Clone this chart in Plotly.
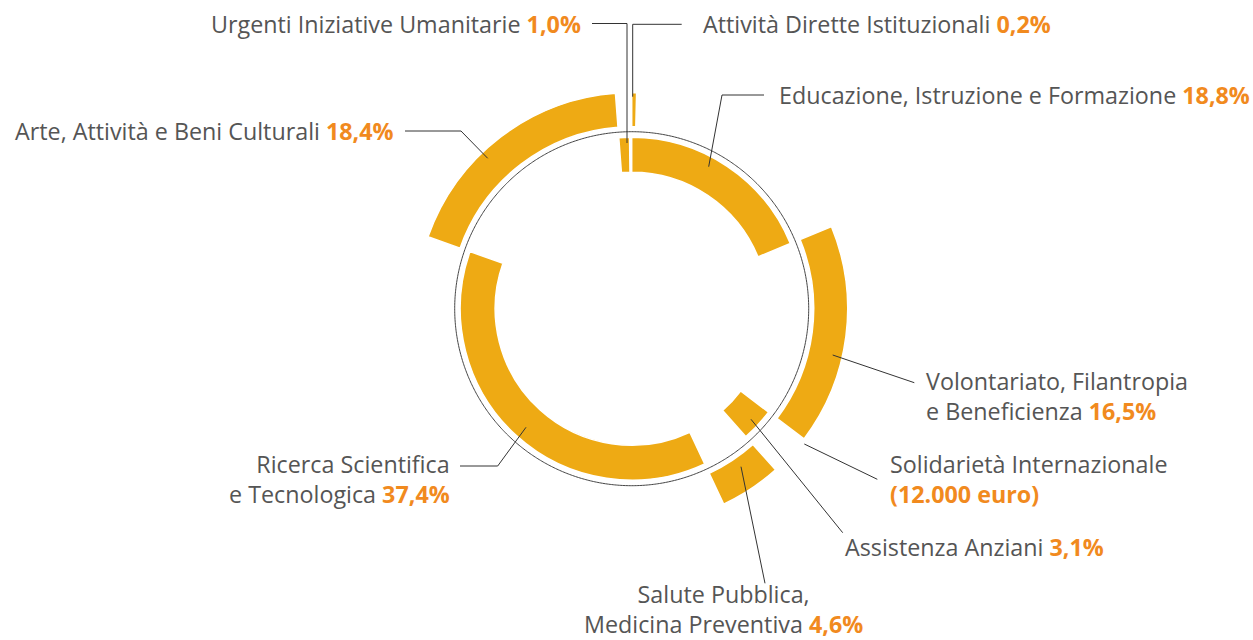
import plotly.graph_objects as go

# ---------------- data ----------------
categories = [
    "Educazione, Istruzione e Formazione",
    "Volontariato, Filantropia<br>e Beneficienza",
    "Solidarietà Internazionale",
    "Assistenza Anziani",
    "Salute Pubblica,<br>Medicina Preventiva",
    "Ricerca Scientifica<br>e Tecnologica",
    "Arte, Attività e Beni Culturali",
    "Urgenti Iniziative Umanitarie",
    "Attività Dirette Istituzionali",
]
values = [18.8, 16.5, 0.0, 3.1, 4.6, 37.4, 18.4, 1.0, 0.2]
value_labels = ["18,8%", "16,5%", "(12.000 euro)", "3,1%", "4,6%", "37,4%", "18,4%", "1,0%", "0,2%"]
rings = ["inner", "outer", "outer", "inner", "outer", "inner", "outer", "inner", "outer"]

# ---------------- style / layout ----------------
W, H = 1253, 640
CX, CY = 631.7, 308.7      # pixel centre of the ring
RMAX = 230                  # radial range == pixel radius of the polar domain
RING = {"inner": (136.5, 35.0), "outer": (182.0, 34.0)}
CIRCLE_R = 177
MIN_W = 1.3                 # minimum drawn width (deg) for tiny slices
BAR_COLOR = "#EEAA14"
TEXT_GREY = "#555555"
ORANGE = "#F18A1E"
LINE = "#333333"
FONT = "Open Sans"
FS = 23.3

fig = go.Figure()

# ring segments
start = 0.0
for cat, v, rg in zip(categories, values, rings):
    w = v * 3.6
    end = start + w
    if v > 0:
        if w < MIN_W:
            theta, width = end + MIN_W / 2, MIN_W
        else:
            theta, width = start + w / 2, w
        base, thick = RING[rg]
        fig.add_trace(go.Barpolar(
            r=[thick], base=[base], theta=[theta], width=[width],
            marker=dict(color=BAR_COLOR, line=dict(color="white", width=1.5)),
            hoverinfo="skip", showlegend=False,
        ))
    start = end

# thin reference circle
circ_theta = [i * 0.5 for i in range(721)]
fig.add_trace(go.Scatterpolar(
    r=[CIRCLE_R] * len(circ_theta), theta=circ_theta, mode="lines",
    line=dict(color="#444444", width=1), hoverinfo="skip", showlegend=False,
))

dx = RMAX / W
dy = RMAX / H
fig.update_layout(
    width=W, height=H,
    margin=dict(l=0, r=0, t=0, b=0),
    paper_bgcolor="white", plot_bgcolor="white",
    polar=dict(
        domain=dict(x=[CX / W - dx, CX / W + dx], y=[1 - CY / H - dy, 1 - CY / H + dy]),
        bgcolor="white",
        radialaxis=dict(range=[0, RMAX], visible=False, showgrid=False),
        angularaxis=dict(rotation=90, direction="clockwise", visible=False, showgrid=False),
    ),
)

def px(x):
    return x / W

def py(y):
    return 1 - y / H

# leader lines (pixel coordinates of the layout)
leaders = [
    [(592, 23.5), (627, 23.5), (627, 143)],
    [(681.7, 24.3), (632.7, 24.3), (632.7, 96.7)],
    [(764, 95), (722, 95), (708.7, 166.7)],
    [(405, 131), (461, 131), (487.7, 158.3)],
    [(832.7, 355), (914.3, 382.7)],
    [(804.3, 444), (877.3, 479.3)],
    [(751, 419.3), (842.7, 532.7)],
    [(741, 466.7), (765, 583.3)],
    [(460, 466), (497.7, 466), (526, 427.3)],
]
for pts in leaders:
    for (x0, y0), (x1, y1) in zip(pts[:-1], pts[1:]):
        fig.add_shape(type="line", xref="paper", yref="paper",
                      x0=px(x0), y0=py(y0), x1=px(x1), y1=py(y1),
                      line=dict(color=LINE, width=1))

# label placement: (category index, x, centre y, xanchor)
placements = [
    (7, 583, 24, "right"),
    (8, 701, 24, "left"),
    (0, 777, 95, "left"),
    (6, 396, 131, "right"),
    (1, 924, 396, "left"),
    (2, 888, 478.5, "left"),
    (3, 842.7, 547, "left"),
    (4, 723, 608.5, "center"),
    (5, 451.7, 479, "right"),
]
for idx, x, y, xa in placements:
    pct = f"<b><span style='color:{ORANGE}'>{value_labels[idx]}</span></b>"
    sep = "<br>" if idx == 2 else " "
    fig.add_annotation(
        x=px(x), y=py(y), xref="paper", yref="paper",
        xanchor=xa, yanchor="middle", align=xa if xa != "center" else "center",
        showarrow=False,
        text=categories[idx] + sep + pct,
        font=dict(family=FONT, size=FS, color=TEXT_GREY),
    )

fig.write_html(
    "out.html",
    config={"displayModeBar": False},
    post_script="document.body.style.margin='0px';document.body.style.overflow='hidden';",
)
